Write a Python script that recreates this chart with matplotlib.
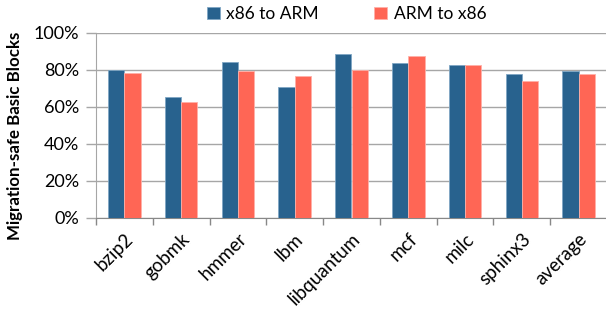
import matplotlib
matplotlib.use("Agg")
import matplotlib.pyplot as plt
import numpy as np

categories = ["bzip2", "gobmk", "hmmer", "lbm", "libquantum", "mcf", "milc", "sphinx3", "average"]
x86_to_arm = [79.8, 65.4, 84.3, 70.5, 88.5, 83.5, 82.4, 77.7, 79.1]
arm_to_x86 = [78.0, 62.5, 79.3, 76.4, 79.7, 87.4, 82.4, 73.7, 77.5]
yticks = [0, 20, 40, 60, 80, 100]

plt.rcParams['font.family'] = ['Lato', 'DejaVu Sans']

fig = plt.figure(figsize=(6.06, 3.16), dpi=100)
ax = fig.add_axes([96/606, 1-217.7/316, 511/606, 185/316])

x = np.arange(len(categories))
w = 0.287
blue = "#28628E"
red = "#FF6655"
ax.bar(x - w/2, x86_to_arm, w, color=blue, edgecolor="#7FA6C4", linewidth=0.6, label="x86 to ARM", zorder=3)
ax.bar(x + w/2, arm_to_x86, w, color=red, edgecolor="#FFB0A8", linewidth=0.6, label="ARM to x86", zorder=3)

ax.set_xlim(-0.5, len(categories) - 0.5)
ax.set_ylim(0, 100)
ax.set_yticks(yticks)
ax.set_yticklabels([f"{v}%" for v in yticks], fontsize=13)
ax.yaxis.grid(True, color="#A6A6A6", linewidth=1, zorder=0)
ax.set_axisbelow(True)

ax.set_xticks(np.arange(len(categories) + 1) - 0.5)
ax.set_xticklabels([])
ax.set_xticks(x, minor=True)
ax.set_xticklabels(categories, minor=True, rotation=45, ha='right', va='top',
                   rotation_mode='anchor', fontsize=13.5)
ax.tick_params(axis='x', which='minor', length=0, pad=9)
ax.tick_params(axis='x', which='major', length=5, color="#888888", width=1)
ax.tick_params(axis='y', length=7, color="#A6A6A6", width=1, pad=5)

for s in ['top', 'right']:
    ax.spines[s].set_visible(False)
ax.spines['left'].set_color("#A6A6A6")
ax.spines['bottom'].set_color("#888888")

ax.set_ylabel("Migration-safe Basic Blocks", fontsize=12.2, fontweight='bold')
ax.yaxis.set_label_coords(-0.142, 0.44)

leg = fig.legend(loc='upper center', bbox_to_anchor=(0.572, 1.03), ncol=2, frameon=False,
                 fontsize=12.5, handlelength=0.75, handleheight=0.75, handletextpad=0.35,
                 columnspacing=3.2)

fig.savefig("out.png", dpi=100)
